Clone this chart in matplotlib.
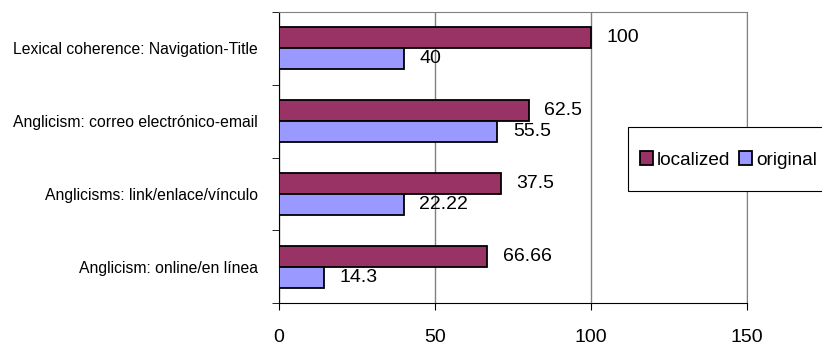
import numpy as np
import matplotlib.pyplot as plt
from matplotlib.patches import Rectangle

plt.rcParams['font.family'] = ['Liberation Sans', 'DejaVu Sans']

categories = ["Lexical coherence: Navigation-Title",
              "Anglicism: correo electrónico-email",
              "Anglicisms: link/enlace/vínculo",
              "Anglicism: online/en línea"]
localized = [100, 80, 71, 66.66]
original = [40, 70, 40, 14.3]
localized_labels = ["100", "62.5", "37.5", "66.66"]
original_labels = ["40", "55.5", "22.22", "14.3"]
xticks = [0, 50, 100, 150]

W, H = 822, 347
fig = plt.figure(figsize=(W/100, H/100), dpi=100)
ax = fig.add_axes([279/W, 1-303/H, (747-279)/W, (303-12)/H])

n = len(categories)
y = np.arange(n)[::-1]
h = 0.29
ax.barh(y + h/2, localized, height=h, color='#993366', edgecolor='black', lw=1.3,
        label='localized', zorder=3)
ax.barh(y - h/2, original, height=h, color='#9999FF', edgecolor='black', lw=1.3,
        label='original', zorder=3)

for yi, v, t in zip(y, localized, localized_labels):
    ax.text(v + 5, yi + h/2, t, va='center', ha='left', fontsize=14, zorder=4)
for yi, v, t in zip(y, original, original_labels):
    ax.text(v + 5, yi - h/2, t, va='center', ha='left', fontsize=14, zorder=4)

ax.set_xlim(0, 150)
ax.set_ylim(-0.5, n - 0.5)
ax.set_xticks(xticks)
ax.tick_params(axis='x', labelsize=14, pad=14, length=5, direction='out')
ax.set_yticks(y)
ax.set_yticklabels(categories, fontsize=11.3)
ax.tick_params(axis='y', which='major', length=0, pad=15)
ax.set_yticks(np.arange(n + 1) - 0.5, minor=True)
ax.tick_params(axis='y', which='minor', length=5, direction='out')

ax.grid(axis='x', color='#808080', lw=1, zorder=0)
for s in ['top', 'right']:
    ax.spines[s].set_color('#808080')
ax.spines['left'].set_color('black')
ax.spines['bottom'].set_color('black')

# legend box (runs past the right edge like the original)
fig.patches.append(Rectangle((628/W, 1-191/H), (830-628)/W, 64/H,
                             transform=fig.transFigure, facecolor='white',
                             edgecolor='black', lw=0.8, zorder=5))
leg = fig.legend(loc='center left', bbox_to_anchor=(640/W, 1-160/H), ncol=2,
                 fontsize=13.7, frameon=False,
                 handlelength=0.7, handleheight=0.7, handletextpad=0.2,
                 columnspacing=0.45, borderpad=0, borderaxespad=0)
leg.set_zorder(6)

fig.savefig('out.png', dpi=100)
